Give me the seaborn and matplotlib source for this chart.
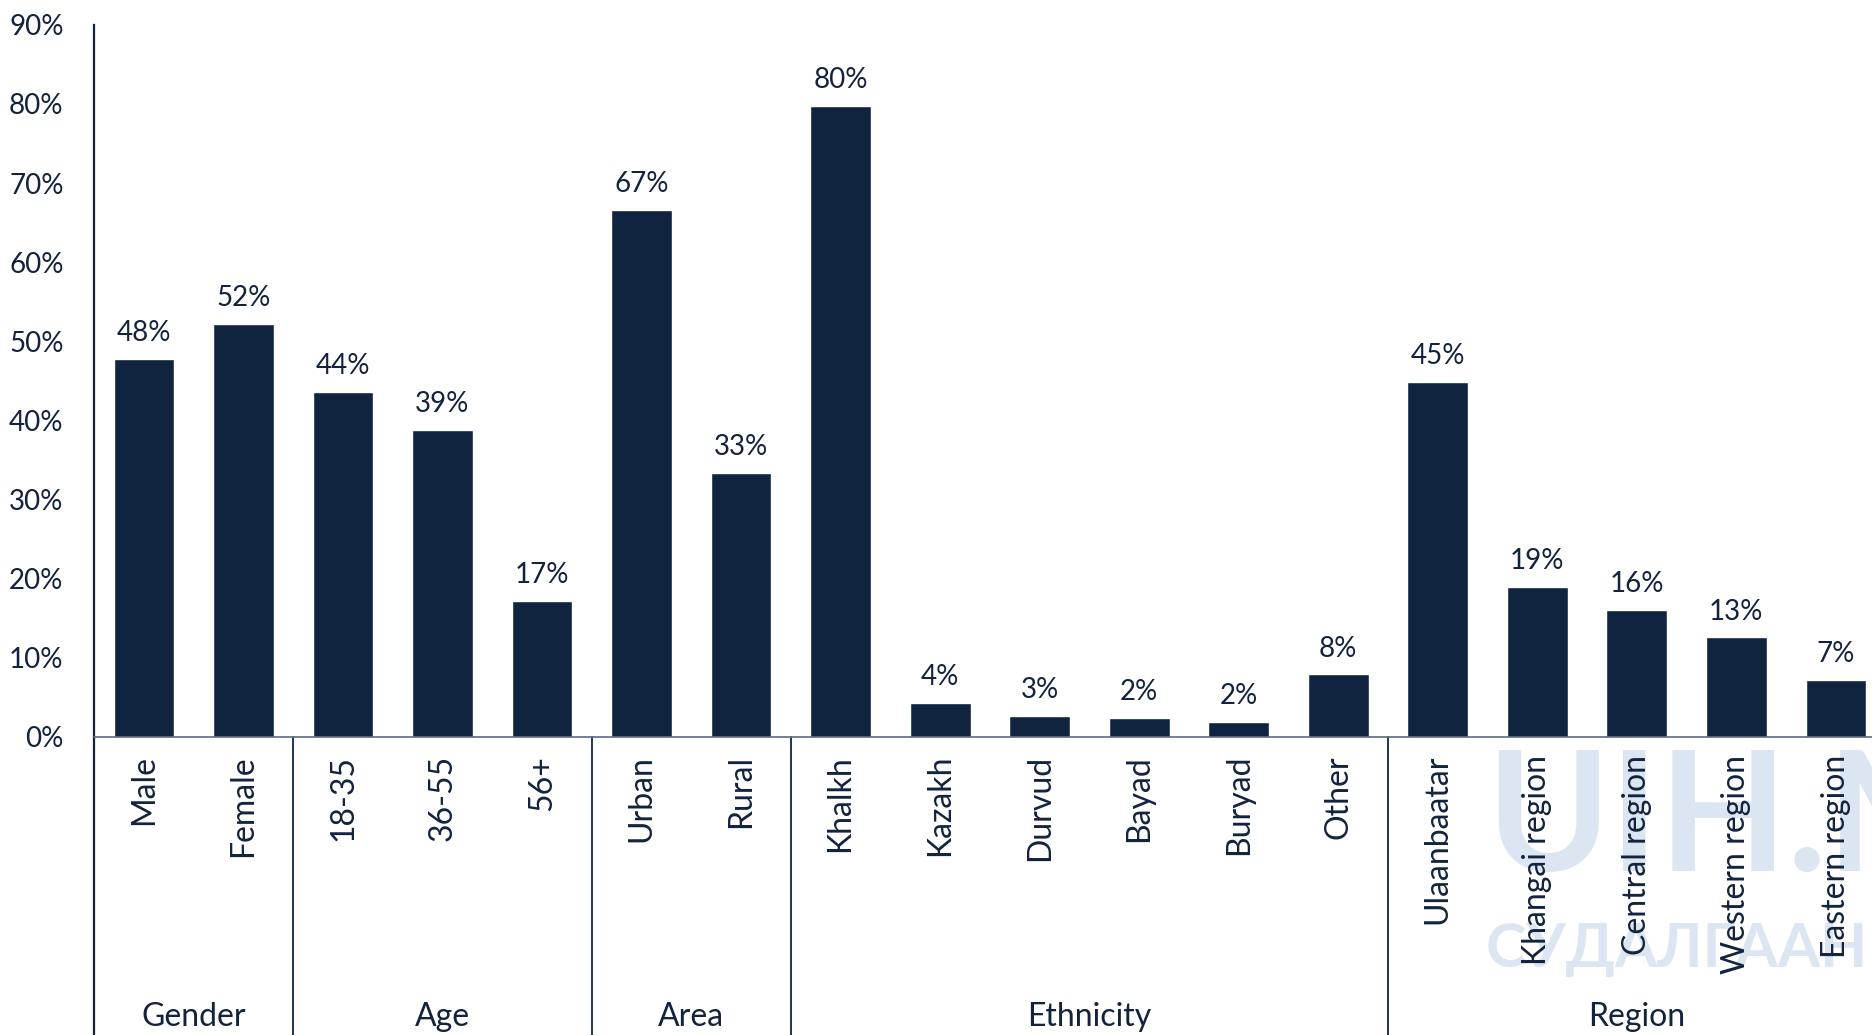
import numpy as np
import pandas as pd
import matplotlib
matplotlib.use("Agg")
import matplotlib.pyplot as plt
import matplotlib.transforms as mtransforms
import seaborn as sns

# data
categories = ["Male", "Female", "18-35", "36-55", "56+", "Urban", "Rural",
              "Khalkh", "Kazakh", "Durvud", "Bayad", "Buryad", "Other",
              "Ulaanbaatar", "Khangai region", "Central region",
              "Western region", "Eastern region"]
values = [47.8, 52.2, 43.6, 38.8, 17.2, 66.6, 33.4,
          79.8, 4.3, 2.7, 2.4, 1.9, 7.9,
          44.9, 19.0, 16.1, 12.6, 7.2]
labels = ["48%", "52%", "44%", "39%", "17%", "67%", "33%",
          "80%", "4%", "3%", "2%", "2%", "8%",
          "45%", "19%", "16%", "13%", "7%"]
groups = ["Gender", "Age", "Area", "Ethnicity", "Region"]
group_sizes = [2, 3, 2, 6, 5]
yticks = [0, 10, 20, 30, 40, 50, 60, 70, 80, 90]

navy = "#10233f"
text_col = "#13233d"

sns.set_style("white")
plt.rcParams['font.family'] = ['Lato', 'DejaVu Sans']

df = pd.DataFrame({"cat": categories, "val": values})

fig = plt.figure(figsize=(18.72, 10.35), dpi=100)

# watermark (light, behind the chart)
fig.text(0.794, 0.205, "UIH.MN", fontsize=120, fontweight="bold",
         color="#dce6f2", ha="left", va="center", zorder=-5)
fig.text(0.794, 0.083, "СУДАЛГААНЫ САН", fontsize=44, fontweight="bold",
         color="#dce6f2", ha="left", va="center", zorder=-5)

ax = fig.add_axes([0.0503, 0.288, 0.957, 0.688])
ax.patch.set_alpha(0)
sns.barplot(data=df, x="cat", y="val", order=categories, color=navy,
            width=0.61, saturation=1, ax=ax, zorder=2)

ax.set_xlim(-0.5, len(categories) - 0.5)
ax.set_ylim(0, 90)
ax.set_yticks(yticks)
ax.set_yticklabels([f"{t}%" for t in yticks], fontsize=20, color=text_col)
ax.set_xticks(range(len(categories)))
ax.set_xticklabels(categories, rotation=90, fontsize=23, color=text_col)
ax.tick_params(axis="both", length=0)
ax.tick_params(axis="y", pad=22)
ax.tick_params(axis="x", pad=13)
ax.set_xlabel("")
ax.set_ylabel("")

for s in ["top", "right"]:
    ax.spines[s].set_visible(False)
ax.spines["left"].set_color(navy)
ax.spines["left"].set_linewidth(1.6)
ax.spines["bottom"].set_color("#5a6b82")
ax.spines["bottom"].set_linewidth(1.2)

# value labels
for i, (v, lab) in enumerate(zip(values, labels)):
    ax.annotate(lab, (i, v), xytext=(0, 9), textcoords="offset points",
                ha="center", va="bottom", fontsize=20, color=text_col)

# group separators and group names below the axis
trans = mtransforms.blended_transform_factory(ax.transData, ax.transAxes)
ax.plot([-0.5, -0.5], [0, -0.45], transform=trans, color=navy, lw=1.6,
        clip_on=False)
start = 0
for g, n in zip(groups, group_sizes):
    end = start + n
    ax.plot([end - 0.5, end - 0.5], [0, -0.45], transform=trans,
            color=navy, lw=1.3, clip_on=False)
    ax.text((start + end - 1) / 2, -0.394, g, transform=trans,
            ha="center", va="center", fontsize=23, color=text_col)
    start = end

fig.savefig("out.png", dpi=100)
